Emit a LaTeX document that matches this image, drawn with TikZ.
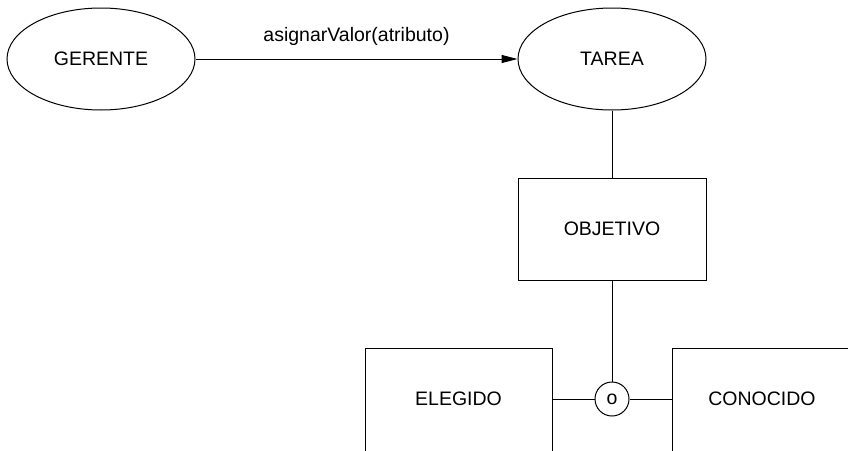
\documentclass[tikz,border=0pt]{standalone}
\usepackage{fontspec}
\setmainfont{Liberation Sans}
\usetikzlibrary{shapes.geometric,arrows.meta}
\tikzset{
  lbl/.style={font=\fontsize{19.5}{23}\selectfont, inner sep=0pt},
  ent/.style={draw, line width=1pt, shape=ellipse, minimum width=188pt, minimum height=102pt, inner sep=0pt, font=\fontsize{19.5}{23}\selectfont},
  boxe/.style={draw, line width=1pt, rectangle, minimum width=188pt, minimum height=102pt, inner sep=0pt, font=\fontsize{19.5}{23}\selectfont},
  conn/.style={line width=1pt},
  disj/.style={draw, line width=1pt, circle, minimum size=34pt, inner sep=0pt, font=\fontsize{19.5}{23}\selectfont},
}
\begin{document}
\begin{tikzpicture}[x=1pt,y=-1pt]
\useasboundingbox (0,0) rectangle (848,450);
\node[ent] (gerente) at (101,59) {GERENTE};
\node[ent] (tarea) at (612,59) {TAREA};
\node[boxe] (objetivo) at (612,229) {OBJETIVO};
\node[disj] (o) at (612,399) {o};
\node[boxe, minimum width=187pt, minimum height=112pt, anchor=north] (elegido) at (458.5,348) {};
\node[lbl] (elegidoT) at (458.5,399) {ELEGIDO};
\node[boxe, minimum width=200pt, minimum height=112pt, anchor=north west] (conocido) at (672,348) {};
\node[lbl] (conocidoT) at (762,399) {CONOCIDO};
\draw[conn, -{Triangle[length=16pt,width=8pt]}] (gerente) -- node[lbl, midway, yshift=23pt] (msg) {asignarValor(atributo)} (tarea);
\draw[conn] (tarea) -- (objetivo);
\draw[conn] (objetivo) -- (o);
\draw[conn] (o.west) -- (o.west -| elegido.east);
\draw[conn] (o.east) -- (o.east -| conocido.west);
\end{tikzpicture}
\end{document}
